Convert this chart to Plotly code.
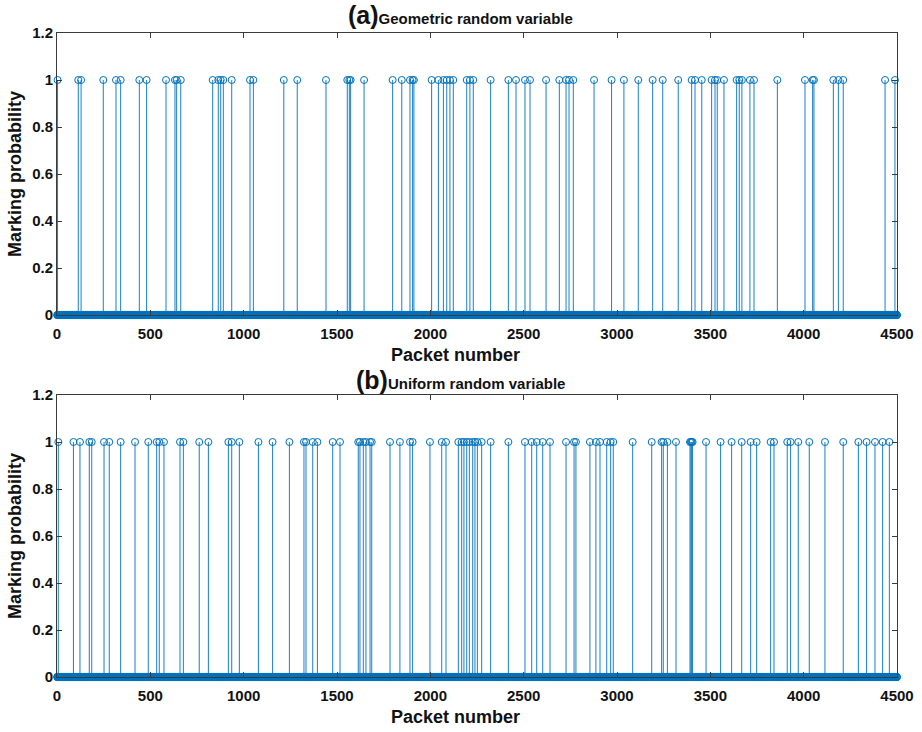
import numpy as np
import plotly.graph_objects as go

# Packet indices that received a marking probability of 1 (all others are 0)
n_packets = 4500
geometric_marked = [3, 114, 129, 248, 316, 341, 441, 480, 584, 632, 641, 663, 834, 864, 877, 891,
                    936, 1034, 1052, 1215, 1287, 1441, 1555, 1566, 1573, 1645, 1798, 1847, 1891,
                    1905, 1912, 2007, 2043, 2070, 2088, 2105, 2123, 2195, 2212, 2230, 2323, 2418,
                    2459, 2507, 2534, 2620, 2691, 2727, 2743, 2766, 2877, 2971, 3037, 3114, 3191,
                    3245, 3328, 3400, 3418, 3454, 3507, 3525, 3537, 3573, 3641, 3655, 3669, 3712,
                    3734, 3859, 4007, 4048, 4055, 4159, 4186, 4212, 4436, 4489]
uniform_marked = [7, 88, 123, 173, 186, 252, 280, 341, 418, 489, 534, 548, 573, 659, 677, 762,
                  811, 918, 936, 977, 1079, 1155, 1245, 1323, 1334, 1370, 1395, 1477, 1516, 1614,
                  1623, 1641, 1655, 1677, 1686, 1784, 1837, 1891, 1905, 1998, 2061, 2084, 2150,
                  2168, 2180, 2195, 2209, 2227, 2239, 2252, 2275, 2323, 2418, 2507, 2543, 2570,
                  2602, 2641, 2727, 2770, 2780, 2855, 2887, 2909, 2945, 2966, 2980, 3084, 3186,
                  3239, 3248, 3270, 3316, 3391, 3396, 3400, 3405, 3477, 3555, 3614, 3668, 3716,
                  3748, 3823, 3841, 3912, 3930, 3971, 4030, 4114, 4212, 4293, 4337, 4382, 4423,
                  4459]
x_ticks = [0, 500, 1000, 1500, 2000, 2500, 3000, 3500, 4000, 4500]
y_ticks = [0, 0.2, 0.4, 0.6, 0.8, 1.0, 1.2]
panel_titles = ["Geometric random variable", "Uniform random variable"]
panel_tags = ["(a)", "(b)"]

BLUE = "#0072BD"
AXIS = "#3a3a3a"
FONT = "Liberation Sans, Arial, sans-serif"
W, H = 922, 732

packets = np.arange(1, n_packets + 1)

fig = go.Figure()

def add_stem(marked, xa, ya):
    y = np.zeros(n_packets)
    y[np.array(marked) - 1] = 1.0
    sx, sy = [], []
    for p in marked:
        sx += [p, p, None]
        sy += [0, 1, None]
    fig.add_trace(go.Scatter(x=sx, y=sy, mode="lines", xaxis=xa, yaxis=ya,
                             line=dict(color=BLUE, width=0.9), hoverinfo="skip",
                             showlegend=False))
    fig.add_trace(go.Scatter(x=packets, y=y, mode="markers", xaxis=xa, yaxis=ya,
                             marker=dict(symbol="circle-open", size=7, color=BLUE,
                                         line=dict(width=1, color=BLUE)),
                             cliponaxis=False, showlegend=False))

add_stem(geometric_marked, "x", "y")
add_stem(uniform_marked, "x2", "y2")

def px_y(p):
    return 1 - p / H

xdom = [57 / W, 897 / W]
axis_common = dict(showline=True, linecolor=AXIS, linewidth=1, mirror="ticks",
                   ticks="inside", ticklen=5, tickcolor=AXIS, showgrid=False,
                   zeroline=False, automargin=False,
                   tickfont=dict(family=FONT, size=15, color="#111", weight="bold"))

fig.update_layout(
    template="none",
    width=W, height=H, margin=dict(l=0, r=0, t=0, b=0),
    paper_bgcolor="white", plot_bgcolor="white",
    xaxis=dict(domain=xdom, anchor="y", range=[0, 4500], tickvals=x_ticks,
               ticklabelstandoff=5, **axis_common),
    yaxis=dict(domain=[px_y(315), px_y(33)], anchor="x", range=[0, 1.2], tickvals=y_ticks,
               **axis_common),
    xaxis2=dict(domain=xdom, anchor="y2", range=[0, 4500], tickvals=x_ticks,
                ticklabelstandoff=5, **axis_common),
    yaxis2=dict(domain=[px_y(677), px_y(395)], anchor="x2", range=[0, 1.2], tickvals=y_ticks,
                **axis_common),
)

annotations = []
for tag, title, ty, ly, xy in zip(panel_tags, panel_titles, [15, 380], [174, 536], [355, 717]):
    common = dict(xref="paper", yref="paper", showarrow=False,
                  xanchor="center", yanchor="middle")
    annotations.append(dict(
        x=460 / W, y=px_y(ty),
        text=f"<b><span style='font-size:25px'>{tag}</span>{title}</b>",
        font=dict(family=FONT, size=15, color="#111"), **common))
    annotations.append(dict(
        x=15 / W, y=px_y(ly), textangle=-90,
        text="<b>Marking probability</b>", font=dict(family=FONT, size=18, color="#111"),
        **common))
    annotations.append(dict(
        x=455 / W, y=px_y(xy),
        text="<b>Packet number</b>", font=dict(family=FONT, size=18, color="#111"), **common))
fig.update_layout(annotations=annotations)

fig.write_html("out.html")
